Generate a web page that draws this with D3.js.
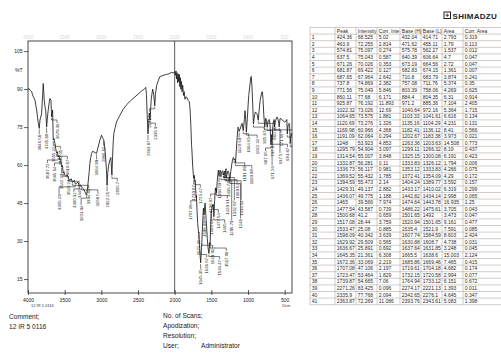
<!DOCTYPE html>
<html>
<head>
<meta charset="utf-8">
<script src="https://cdn.jsdelivr.net/npm/d3@7"></script>
<style>
  body { margin: 0; background: #fff; }
  svg { display: block; font-family: "Liberation Sans", Arial, sans-serif; }
</style>
</head>
<body>
<svg id="chart" width="501" height="353"></svg>
<script>
// spectrum (wavenumber 1/cm, %T)
const specWn = [4000, 3985, 3970, 3950, 3940, 3928, 3918, 3905, 3895, 3882, 3870, 3860, 3846, 3837, 3825, 3814, 3800, 3792, 3778, 3768,
  3759, 3746, 3735, 3724, 3710, 3701, 3687, 3678, 3670, 3664, 3656, 3645, 3633, 3622, 3610, 3600, 3588, 3578, 3565, 3555,
  3542, 3530, 3520, 3510, 3497, 3480, 3465, 3450, 3429, 3410, 3395, 3384, 3370, 3355, 3337, 3320, 3300, 3285, 3269, 3250,
  3235, 3224, 3210, 3201, 3190, 3179, 3165, 3156, 3145, 3133, 3118, 3102, 3085, 3065, 3045, 3020, 2997, 2980, 2966, 2950,
  2939, 2930, 2922, 2912, 2900, 2884, 2870, 2856, 2848, 2840, 2830, 2810, 2793, 2750, 2703, 2650, 2600, 2567, 2500, 2450,
  2431, 2410, 2394, 2385, 2375, 2364, 2355, 2344, 2336, 2320, 2300, 2286, 2271, 2262, 2245, 2221, 2204, 2160, 2113, 2080,
  2045, 2020, 2000, 1990, 1982, 1975, 1968, 1960, 1952, 1945, 1937, 1930, 1922, 1915, 1907, 1900, 1890, 1880, 1870, 1860,
  1845, 1830, 1815, 1800, 1790, 1780, 1770, 1765, 1755, 1745, 1740, 1733, 1727, 1723.5, 1720.6, 1715, 1707, 1704, 1695, 1686,
  1678, 1672.4, 1669.5, 1665.5, 1655, 1645.4, 1640, 1638.6, 1636.7, 1634, 1631.9, 1629.9, 1620, 1608, 1598, 1590, 1584.6, 1570, 1555, 1545,
  1535.4, 1533.5, 1527, 1522, 1517, 1510, 1501.7, 1500.7, 1492, 1486, 1477.5, 1474.6, 1470, 1465, 1455, 1443.8, 1440, 1436, 1434, 1429.3,
  1420, 1410, 1404, 1394.6, 1389.8, 1380, 1372.4, 1369.5, 1362, 1354, 1345, 1336.7, 1334, 1332.9, 1326, 1320, 1314.5, 1305, 1300, 1295.8,
  1285, 1275, 1266, 1258, 1248, 1235, 1220, 1210, 1203, 1197, 1191, 1185, 1182.4, 1176, 1170, 1160, 1150, 1140, 1135, 1128,
  1120.7, 1112, 1104, 1090, 1080, 1064.7, 1050, 1041, 1035, 1022.3, 1010, 1000, 990, 972, 963, 956, 946, 936, 925.9, 915,
  900, 885, 875, 860, 850, 835, 815, 804, 795, 785, 771.6, 765, 758, 748, 737.8, 725, 711, 700, 692, 687.7,
  684, 681.9, 677, 671.3, 665, 655, 645, 640, 637.5, 625, 606, 590, 580, 574.8, 568, 562, 540, 520, 500, 480,
  471, 468, 463.9, 458, 450, 440, 432, 428, 424.4, 418, 410, 400];
const specT = [90, 90.2, 89.5, 89, 88, 87, 86.5, 85.6, 84, 81.7, 79, 76.5, 74.5, 77.8, 79, 80.5, 88, 92.2, 85.6, 83,
  81.7, 75, 79, 81.7, 85, 86.3, 85.6, 79, 80.5, 81.7, 69.9, 70.5, 68.6, 66.5, 64.7, 65.3, 63.2, 63.8, 62, 62.4,
  59.2, 59.8, 56.8, 57.4, 56, 55.5, 56.2, 54.8, 54, 54.6, 53.2, 53.4, 54, 52.6, 52.8, 53.3, 51.8, 52.2, 51.4, 50.8,
  50.2, 49.4, 48.6, 48.1, 50.5, 53.4, 57.5, 60.7, 63, 64.6, 65.5, 65.2, 64.9, 64.6, 67, 69.9, 71.8, 70.5, 69.9, 66,
  62, 58, 52, 57, 60, 62, 63, 56, 62, 68, 72.5, 75, 77, 79.5, 82, 84, 85.5, 86.3, 88, 89.3,
  89.6, 90.2, 90.7, 88, 80, 72.3, 76, 80.5, 77.8, 86, 90, 88, 83.4, 88, 91.5, 93.5, 94.9, 95.4, 95.8, 96,
  96.6, 96.4, 96.8, 95.5, 97.2, 94, 96.5, 92.5, 96, 93, 95.8, 91, 94.5, 90, 93, 89, 91.5, 87.5, 89, 86,
  87, 86.5, 85.5, 85, 82, 76, 68, 66, 60, 56, 54.7, 56, 54.5, 53.5, 54, 51, 47.1, 48, 42, 37,
  34.5, 33.1, 33.5, 31, 25, 21.4, 24.5, 26, 25.9, 27.5, 28.5, 29.5, 36, 43, 40.3, 44, 45, 38, 31, 27.5,
  25.5, 25.1, 26.8, 29.5, 28.4, 35, 41.5, 41.2, 43, 44.3, 43.6, 44.5, 42, 39.6, 46, 51, 50.5, 49.8, 50.8, 49.1,
  53.5, 56.5, 58, 55.5, 57, 58, 57.3, 55.4, 56.8, 57.4, 57.8, 56.1, 56.8, 56.3, 57.2, 57.6, 55, 57.9, 58.6, 54.9,
  56.5, 57.6, 57.5, 56.5, 53.9, 57.5, 60.5, 62.3, 62.8, 63, 62.1, 62.4, 62, 62.2, 61, 65.5, 70, 74, 75, 74.5,
  73.3, 74.2, 74.3, 76, 76.5, 73.6, 78, 81.5, 80, 73, 78, 83, 87.5, 92, 94.5, 95, 91, 84, 76.2, 79,
  81, 80.5, 80, 77.7, 81, 85.5, 88.5, 89, 86, 80, 75, 77, 78.5, 77.5, 74.9, 77.5, 78, 76, 71, 68,
  70, 69.4, 72, 70, 73.5, 77, 78, 77.5, 75, 77.5, 79, 78, 76.5, 75.1, 77, 78.5, 78, 77.5, 77, 77.5,
  78, 76, 72.3, 74.5, 76, 76.5, 76, 72, 68.5, 71, 72.5, 71.5];

// peak table (rows 1-41 visible)
const peakWn = [424.36, 463.9, 574.81, 637.5, 671.26, 681.87, 687.65, 737.8, 771.56, 860.11, 925.87, 1022.32, 1064.65, 1120.69,
  1169.98, 1191.09, 1248, 1295.79, 1314.54, 1332.87, 1336.73, 1369.52, 1394.59, 1429.31, 1436.07, 1465, 1477.54, 1500.68,
  1517.08, 1533.47, 1598.09, 1629.92, 1636.67, 1645.35, 1672.36, 1707.08, 1723.47, 1739.87, 2271.26, 2335.9, 2363.87];
const peakInt = [68.525, 72.255, 75.097, 75.043, 70.026, 69.422, 67.964, 74.869, 75.049, 77.68, 76.192, 73.026, 73.575, 73.276,
  60.966, 62.064, 53.923, 54.904, 55.007, 56.281, 56.117, 55.432, 55.473, 49.137, 49.775, 39.566, 43.587, 41.2,
  28.44, 25.08, 40.342, 29.509, 25.891, 21.361, 33.069, 47.106, 53.464, 54.665, 83.425, 77.768, 72.269];
const corrInt = [5.02, 2.814, 0.274, 0.587, 0.353, 0.127, 2.642, 2.382, 5.846, 6.171, 11.893, 12.69, 1.881, 1.326,
  4.368, 0.294, 4.853, 3.097, 3.848, 0.11, 0.981, 1.785, 2.14, 2.882, 1.188, 7.974, 0.739, 0.659,
  3.759, 0.885, 3.639, 0.565, 0.692, 6.308, 2.219, 2.197, 1.829, 7.06, 0.096, 2.094, 11.086];
const baseH = [432.04, 471.62, 575.78, 640.39, 673.19, 682.83, 710.8, 757.08, 803.39, 884.4, 971.2, 1040.64, 1103.33, 1135.16,
  1182.41, 1202.67, 1263.36, 1299.11, 1325.15, 1333.83, 1353.12, 1372.41, 1404.24, 1433.17, 1442.82, 1474.64, 1486.22, 1501.65,
  1520.94, 1535.4, 1607.74, 1630.88, 1637.64, 1665.5, 1685.86, 1719.61, 1732.15, 1764.94, 2274.17, 2342.65, 2393.76];
const baseL = [414.71, 455.11, 562.27, 606.64, 664.56, 674.15, 683.79, 711.76, 758.06, 804.35, 885.36, 972.16, 1041.61, 1104.29,
  1136.12, 1183.38, 1203.63, 1266.32, 1300.08, 1326.12, 1333.83, 1354.09, 1389.77, 1410.02, 1434.14, 1443.78, 1475.61, 1492,
  1501.65, 1521.9, 1584.59, 1608.7, 1631.85, 1638.6, 1669.46, 1704.18, 1720.58, 1733.12, 2221.13, 2276.1, 2343.61];
const peakArea = [2.793, 1.79, 1.537, 4.7, 2.72, 1.361, 3.874, 5.374, 4.269, 6.31, 7.104, 5.364, 6.616, 4.231,
  8.41, 3.973, 14.508, 8.19, 6.191, 1.794, 4.266, 4.29, 3.592, 6.319, 2.998, 16.935, 3.705, 3.473,
  9.161, 7.591, 8.603, 4.738, 3.248, 15.003, 7.465, 4.682, 2.994, 6.151, 1.393, 4.645, 5.083];
const corrArea = [0.319, 0.113, 0.012, 0.047, 0.047, 0.007, 0.241, 0.35, 0.625, 0.914, 2.405, 1.715, 0.134, 0.131,
  0.566, 0.021, 0.773, 0.437, 0.423, 0.006, 0.075, 0.172, 0.157, 0.299, 0.065, 1.25, 0.043, 0.047,
  0.477, 0.085, 2.424, 0.031, 0.045, 2.124, 0.415, 0.174, 0.077, 0.672, 0.011, 0.347, 1.398];
// header cells as they show (narrow columns cut the long ones)
const tableHeads = ['', 'Peak', 'Intensity', 'Corr. Inte', 'Base (H)', 'Base (L)', 'Area', 'Corr. Area'];

// peaks picked in the 4000-2400 part (their rows are below the visible table)
const extraWn = [3846.58, 3745.88, 3678.36, 3655.22, 3633.05, 3610.87, 3587.72, 3565.54, 3542.39, 3520.21,
  3449.8, 3394.83, 3355.29, 3300.32, 3268.5, 3201.94, 3064.99, 2966.62, 2922.25, 2855.7];
const extraT = [74.5, 75, 79, 69.9, 68.6, 64.7, 63.2, 62, 59.2, 56.8, 54.8, 53.2, 52.6, 51.8, 51.4, 48.1, 64.6, 69.9, 52, 56];

const xTicks = [4000, 3500, 3000, 2500, 2000, 1500, 1000, 500];
const yTicks = [15, 30, 45, 60, 75, 90, 105];

const svg = d3.select('#chart');
svg.append('rect').attr('width', 501).attr('height', 353).attr('fill', '#fff');

const plot = { left: 28, right: 292, top: 41, bottom: 293 };
const x = d3.scaleLinear().domain([4000, 400]).range([plot.left, plot.right]);
const y = d3.scaleLinear().domain([9.5, 109]).range([plot.bottom, plot.top]);
const fmt = d3.format('d');

svg.append('clipPath').attr('id', 'plotClip')
  .append('rect')
  .attr('x', plot.left).attr('y', plot.top)
  .attr('width', plot.right - plot.left).attr('height', plot.bottom - plot.top);

// faint labels on top edge
svg.append('g')
  .selectAll('text')
  .data(xTicks)
  .enter()
  .append('text')
  .attr('x', (d) => x(d))
  .attr('y', plot.top - 2)
  .attr('text-anchor', 'middle')
  .attr('font-size', 4.5)
  .attr('fill', '#dadada')
  .text(fmt);

// frame + 2000 divider
svg.append('rect')
  .attr('x', plot.left).attr('y', plot.top)
  .attr('width', plot.right - plot.left).attr('height', plot.bottom - plot.top)
  .attr('fill', 'none').attr('stroke', '#333').attr('stroke-width', 0.9);
svg.append('line')
  .attr('x1', x(2000)).attr('x2', x(2000))
  .attr('y1', plot.top).attr('y2', plot.bottom)
  .attr('stroke', '#333').attr('stroke-width', 0.8);

// axes
const xAxis = svg.append('g')
  .attr('transform', `translate(0,${plot.bottom})`)
  .call(d3.axisBottom(x).tickValues(xTicks).tickFormat(fmt).tickSize(3).tickSizeOuter(0).tickPadding(2));
const yAxis = svg.append('g')
  .attr('transform', `translate(${plot.left},0)`)
  .call(d3.axisLeft(y).tickValues(yTicks).tickFormat(fmt).tickSize(4).tickSizeOuter(0).tickPadding(1.5));
[xAxis, yAxis].forEach((g) => {
  g.select('path.domain').remove();
  g.selectAll('line').attr('stroke', '#333').attr('stroke-width', 0.8);
  g.selectAll('text').attr('font-size', 5).attr('fill', '#222').attr('font-family', '"Liberation Sans", Arial, sans-serif');
});
xAxis.selectAll('line').attr('y1', -3).attr('y2', 2);

svg.append('text').attr('x', 15).attr('y', 72).attr('font-size', 5).attr('fill', '#222').text('%T');
svg.append('text').attr('x', x(500) - 3).attr('y', 307).attr('font-size', 4).attr('fill', '#333').text('1/cm');
svg.append('text').attr('x', 31).attr('y', 307).attr('font-size', 4).attr('fill', '#333').text('12  IR 5 0116');

// spectrum
const spec = specWn.map((w, i) => ({ w, t: specT[i] }));
const body = svg.append('g').attr('clip-path', 'url(#plotClip)');
body.append('path')
  .datum(spec)
  .attr('fill', 'none')
  .attr('stroke', '#1b1b1b')
  .attr('stroke-width', 0.85)
  .attr('stroke-linejoin', 'round')
  .attr('d', d3.line().x((d) => x(d.w)).y((d) => y(d.t)));

// peak labels with stepped leaders
const peaks = peakWn.map((w, i) => ({ w, t: peakInt[i] }))
  .concat(extraWn.map((w, i) => ({ w, t: extraT[i] })))
  .sort((a, b) => b.w - a.w);
const labW = 5.2, labH = 16;
const offsets = [0, 5.4, -5.4, 10.8, -10.8, 16.2, -16.2];
const placed = [];
peaks.forEach((p) => {
  const px = x(p.w), py = y(p.t);
  let ly = py + 6, lx = px, ok = false;
  while (!ok) {
    for (const dx of offsets) {
      const cx = px + dx;
      const hit = placed.some((r) => Math.abs(r.x - cx) < labW && ly < r.y + labH + 1 && ly + labH > r.y - 1);
      if (!hit) { lx = cx; ok = true; break; }
    }
    if (!ok) ly += 4;
  }
  placed.push({ x: lx, y: ly });
  const stepY = py + 3;
  body.append('path')
    .attr('d', `M${px},${py + 1}V${stepY}H${lx}V${ly}`)
    .attr('fill', 'none').attr('stroke', '#222').attr('stroke-width', 0.6);
  body.append('text')
    .attr('transform', `translate(${lx + 1.6},${ly + 0.5}) rotate(-90)`)
    .attr('text-anchor', 'end')
    .attr('font-size', 4.3)
    .attr('fill', '#222')
    .text(p.w);
});

// footer
const foot = svg.append('g').attr('font-size', 6.6).attr('fill', '#222');
foot.append('text').attr('x', 9).attr('y', 318.5).text('Comment;');
foot.append('text').attr('x', 9).attr('y', 329).text('12  IR 5 0116');
['No. of Scans;', 'Apodization;', 'Resolution;', 'User;'].forEach((t, i) => {
  foot.append('text').attr('x', 163).attr('y', 318 + i * 10).text(t);
});
foot.append('text').attr('x', 201).attr('y', 348).text('Administrator');

// logo
const logo = svg.append('g');
logo.append('rect').attr('x', 444).attr('y', 12).attr('width', 6.5).attr('height', 6.5)
  .attr('fill', 'none').attr('stroke', '#222').attr('stroke-width', 1);
logo.append('path').attr('d', 'M445.5,15.25H449M447.25,13.5V17').attr('stroke', '#222').attr('stroke-width', 0.8);
logo.append('text').attr('x', 452.5).attr('y', 18.6).attr('font-size', 8).attr('font-weight', 'bold')
  .attr('letter-spacing', 0.3).attr('fill', '#222').text('SHIMADZU');

// peak table
const colX = [310, 335, 356, 377, 400, 421, 442, 463, 530];
const rowH = 6.6, tableTop = 27.5;
const rows = peakWn.map((w, i) => [i + 1, w, peakInt[i], corrInt[i], baseH[i], baseL[i], peakArea[i], corrArea[i]]);
const table = svg.append('g').attr('font-size', 5).attr('fill', '#2a2a2a');
[tableHeads].concat(rows).forEach((r, i) => {
  const cy = tableTop + i * rowH;
  r.forEach((v, j) => {
    table.append('text')
      .attr('x', colX[j] + 1.8)
      .attr('y', cy + rowH / 2 + 1.8)
      .text(v);
  });
});
const grid = svg.append('g').attr('stroke', '#b2aaa1').attr('stroke-width', 0.6);
d3.range(rows.length + 2).forEach((i) => {
  grid.append('line').attr('x1', colX[0]).attr('x2', 501)
    .attr('y1', tableTop + i * rowH).attr('y2', tableTop + i * rowH);
});
colX.slice(0, -1).forEach((cx) => {
  grid.append('line').attr('x1', cx).attr('x2', cx)
    .attr('y1', tableTop).attr('y2', tableTop + (rows.length + 1) * rowH);
});
</script>
</body>
</html>
